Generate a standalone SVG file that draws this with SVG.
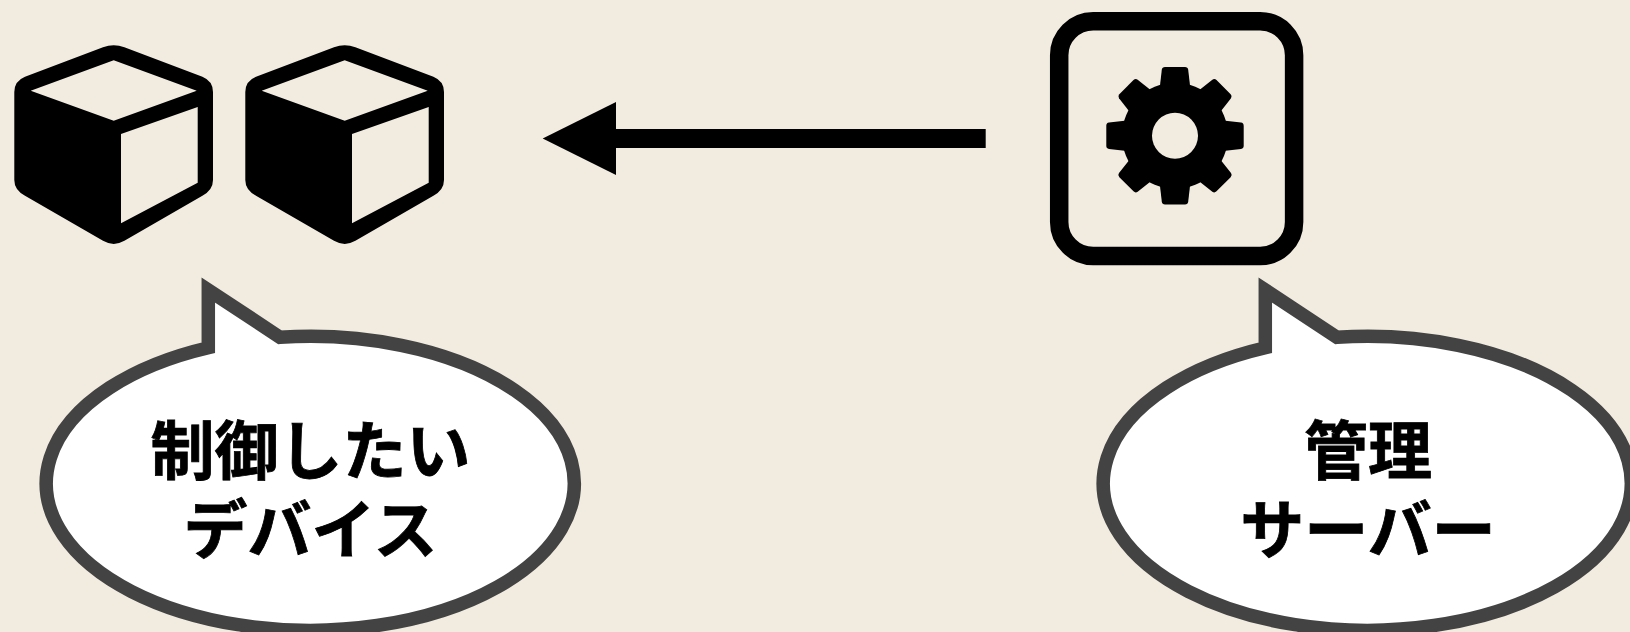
<svg xmlns="http://www.w3.org/2000/svg" xmlns:xlink="http://www.w3.org/1999/xlink" width="1630" height="632" viewBox="0 0 1630 632">
  <style>
    .bg { fill: #f2ece0; }
    .ink { fill: #000; }
    .bubble { fill: #fff; stroke: #434343; stroke-width: 13.500; stroke-miterlimit: 10; }
    .label { font-family: "Noto Sans CJK JP", "Noto Sans CJK SC", sans-serif; font-size: 64px; font-weight: 700; fill: #000; stroke: #000; stroke-width: 0.800; text-anchor: middle; }
    .wire { fill: none; stroke: #000; stroke-width: 19; }
  </style>
  <defs>
    <g id="cube">
      <path class="ink" fill-rule="evenodd" d="M103 47.300 Q113.700 43.300 124.400 47.300 L202.400 76.700 Q213 81 213 92 L213 180 Q213 190 202.400 195.700 L124.400 240.800 Q113.700 247 103 240.800 L25 195.700 Q14.300 190 14.300 180 L14.300 92 Q14.300 81 25 76.700 Z M113.700 60.300 L30.700 90.700 L113.700 120.700 L196.700 90.700 Z M121 134 L121 223.300 L197.700 182.700 L197.700 107 Z"/>
    </g>
    <path id="tooth" class="ink" d="M-15.500 -46 L-13.200 -66 Q-12.800 -68.700 -10 -68.700 L10 -68.700 Q12.800 -68.700 13.200 -66 L15.500 -46 Z"/>
    <path id="bubble-shape" class="bubble" d="M208.300 347.710 L208.300 290 L280 337.270 A264 147 0 1 1 208.300 347.710 Z"/>
  </defs>
  <rect class="bg" x="0" y="0" width="1630" height="632"/>
  <g id="connectors">
    <line class="wire" x1="985.700" y1="138.500" x2="610" y2="138.500"/>
    <polygon class="ink" points="542.700,138.500 616,102 616,175"/>
  </g>
  <g id="device-1"><use xlink:href="#cube" href="#cube"/></g>
  <g id="device-2"><use xlink:href="#cube" href="#cube" x="231"/></g>
  <g id="server">
    <rect x="1059.200" y="21.300" width="234.900" height="234.700" rx="34" ry="34" fill="none" stroke="#000" stroke-width="18.500"/>
    <g transform="translate(1175 135.700)">
      <circle class="ink" r="53"/>
      <use xlink:href="#tooth" href="#tooth"/>
      <use xlink:href="#tooth" href="#tooth" transform="rotate(45)"/>
      <use xlink:href="#tooth" href="#tooth" transform="rotate(90)"/>
      <use xlink:href="#tooth" href="#tooth" transform="rotate(135)"/>
      <use xlink:href="#tooth" href="#tooth" transform="rotate(180)"/>
      <use xlink:href="#tooth" href="#tooth" transform="rotate(225)"/>
      <use xlink:href="#tooth" href="#tooth" transform="rotate(270)"/>
      <use xlink:href="#tooth" href="#tooth" transform="rotate(315)"/>
      <circle class="bg" r="23"/>
    </g>
  </g>
  <g id="callout-device">
    <use xlink:href="#bubble-shape" href="#bubble-shape"/>
    <text class="label" x="310.500" y="474">制御したい</text>
    <text class="label" x="310.500" y="553">デバイス</text>
  </g>
  <g id="callout-server">
    <use xlink:href="#bubble-shape" href="#bubble-shape" x="1057"/>
    <text class="label" x="1368" y="474">管理</text>
    <text class="label" x="1368" y="553">サーバー</text>
  </g>
</svg>
